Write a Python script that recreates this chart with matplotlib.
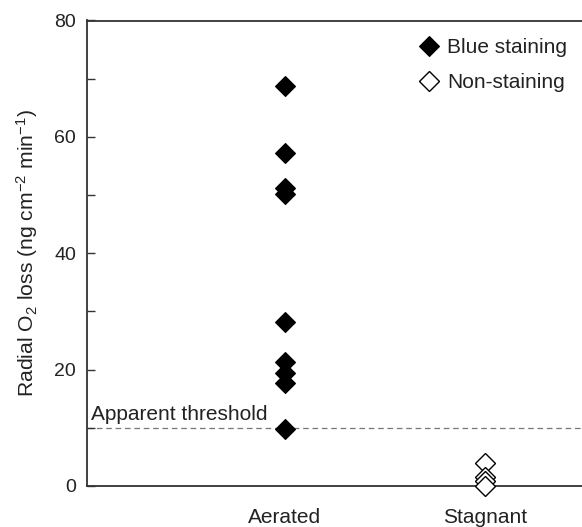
import matplotlib
matplotlib.use("Agg")
import matplotlib.pyplot as plt
from matplotlib.ticker import MultipleLocator

plt.rcParams['font.family'] = ['Liberation Sans', 'DejaVu Sans']
plt.rcParams['mathtext.fontset'] = 'custom'
plt.rcParams['mathtext.rm'] = 'Liberation Sans'
plt.rcParams['mathtext.it'] = 'Liberation Sans:italic'

categories = ["Aerated", "Stagnant"]
blue_staining = [68.8, 57.2, 51.2, 50.2, 28.2, 21.3, 19.5, 17.7, 9.8]
non_staining = [4.0, 1.6, 0.9, 0.0]
threshold = 10
threshold_label = "Apparent threshold"
yticks = [0, 20, 40, 60, 80]

W, H = 582, 527
fig = plt.figure(figsize=(W / 100, H / 100), dpi=100)
ax = fig.add_axes([87 / W, (H - 486) / H, (W - 87) / W, (486 - 20.5) / H])

edge = '#333333'
xpos = [1, 2]
ax.plot([xpos[0]] * len(blue_staining), blue_staining, linestyle='none',
        marker='D', ms=10.5, mfc='black', mec='black', mew=0.8,
        label='Blue staining', clip_on=False, zorder=3)
ax.plot([xpos[1]] * len(non_staining), non_staining, linestyle='none',
        marker='D', ms=10.5, mfc='white', mec='black', mew=1.0,
        label='Non-staining', clip_on=False, zorder=3)

ax.axhline(threshold, color='#777777', linestyle=(0, (4.5, 3)), linewidth=0.9, zorder=1)
ax.text(0.03, threshold + 0.6, threshold_label, fontsize=15, color='#222222',
        ha='left', va='bottom')

ax.set_xlim(0.01, 2.485)
ax.set_ylim(0, 80)
ax.set_xticks(xpos)
ax.set_xticklabels(categories, fontsize=15, color='#222222')
ax.set_yticks(yticks)
ax.yaxis.set_minor_locator(MultipleLocator(10))
ax.tick_params(axis='y', which='both', direction='in', length=5.5, width=1.0,
               color=edge, labelsize=14, labelcolor='#222222', pad=8)
ax.tick_params(axis='x', length=0, pad=16)

ax.set_ylabel(r"Radial O$_2$ loss (ng cm$^{-2}$ min$^{-1}$)", fontsize=15.2,
              color='#222222', labelpad=10)

for s in ['left', 'bottom', 'top']:
    ax.spines[s].set_color(edge)
    ax.spines[s].set_linewidth(1.3)
ax.spines['right'].set_visible(False)

leg = ax.legend(loc='upper right', bbox_to_anchor=(1.0, 0.993), frameon=False,
                fontsize=15, handlelength=1.0, handletextpad=0.4,
                labelspacing=0.75, borderaxespad=0.3)
for t in leg.get_texts():
    t.set_color('#222222')

fig.savefig("out.png", dpi=100)
